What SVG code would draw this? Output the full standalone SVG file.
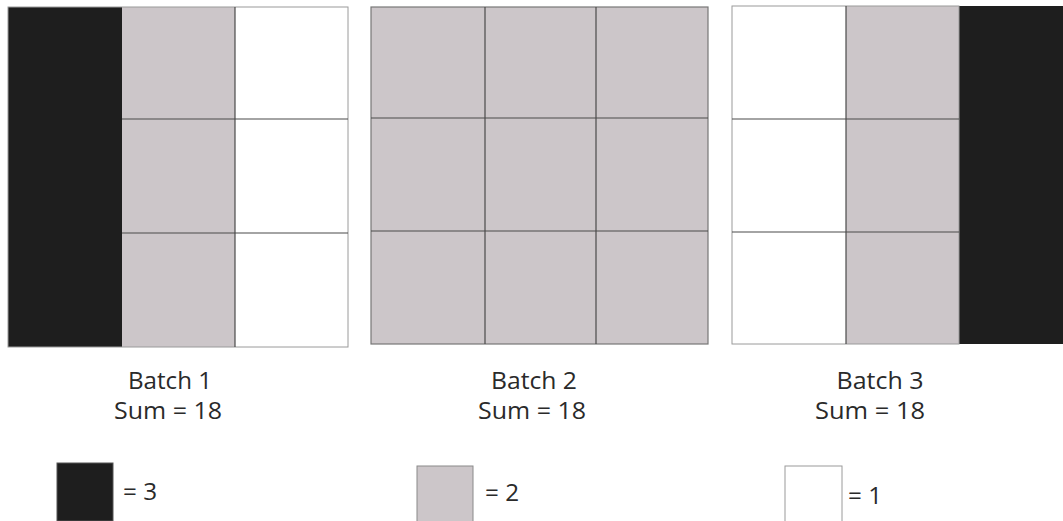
<svg xmlns="http://www.w3.org/2000/svg" width="1063" height="521" viewBox="0 0 1063 521">
<style>
.blk{fill:#1e1e1e}
.gry{fill:#ccc6c9}
.wht{fill:#ffffff}
.ln{stroke:#4a4a4a;stroke-width:1.2;fill:none}
.lt{stroke:#9a9a9a;stroke-width:1;fill:none}
.t{font-family:"Open Sans","Liberation Sans",Arial,sans-serif;font-size:23px;fill:#2a2a2a;text-anchor:middle}
.tl{font-family:"Open Sans","Liberation Sans",Arial,sans-serif;font-size:23px;fill:#2a2a2a}
</style>
<rect width="1063" height="521" fill="#fff"/>
<g id="batch1">
<rect class="blk" x="8" y="7" width="114" height="340"/>
<rect class="gry" x="122" y="7" width="113" height="340"/>
<rect class="wht" x="235" y="7" width="113" height="340"/>
<rect class="lt" x="8" y="7" width="340" height="340"/>
<line class="ln" x1="122" y1="119" x2="348" y2="119"/>
<line class="ln" x1="122" y1="233" x2="348" y2="233"/>
<line class="ln" x1="235" y1="7" x2="235" y2="347"/>
<text class="t" x="170" y="389" textLength="84" lengthAdjust="spacingAndGlyphs">Batch 1</text>
<text class="t" x="168" y="419" textLength="108" lengthAdjust="spacingAndGlyphs">Sum = 18</text>
</g>
<g id="batch2">
<rect class="gry" x="371" y="7" width="337" height="337"/>
<rect class="ln" x="371" y="7" width="337" height="337" style="stroke:#777"/>
<line class="ln" x1="485" y1="7" x2="485" y2="344"/>
<line class="ln" x1="596" y1="7" x2="596" y2="344"/>
<line class="ln" x1="371" y1="118" x2="708" y2="118"/>
<line class="ln" x1="371" y1="231" x2="708" y2="231"/>
<text class="t" x="534" y="389" textLength="86" lengthAdjust="spacingAndGlyphs">Batch 2</text>
<text class="t" x="532" y="419" textLength="108" lengthAdjust="spacingAndGlyphs">Sum = 18</text>
</g>
<g id="batch3">
<rect class="wht" x="732" y="6" width="114" height="338"/>
<rect class="gry" x="846" y="6" width="113" height="338"/>
<rect class="blk" x="959" y="6" width="104" height="338"/>
<rect class="lt" x="732" y="6" width="227" height="338"/>
<line class="ln" x1="732" y1="119" x2="959" y2="119"/>
<line class="ln" x1="732" y1="232" x2="959" y2="232"/>
<line class="ln" x1="846" y1="6" x2="846" y2="344"/>
<text class="t" x="880" y="389" textLength="87" lengthAdjust="spacingAndGlyphs">Batch 3</text>
<text class="t" x="870" y="419" textLength="110" lengthAdjust="spacingAndGlyphs">Sum = 18</text>
</g>
<g id="legend3">
<rect class="blk" x="57" y="463" width="56" height="58" stroke="#555" stroke-width="1"/>
<text class="tl" x="123" y="500" textLength="34" lengthAdjust="spacingAndGlyphs">= 3</text>
</g>
<g id="legend2">
<rect class="gry" x="417" y="466" width="56" height="56" stroke="#8a8a8a" stroke-width="1"/>
<text class="tl" x="485" y="501" textLength="34" lengthAdjust="spacingAndGlyphs">= 2</text>
</g>
<g id="legend1">
<rect class="wht" x="785" y="466" width="57" height="56" stroke="#9a9a9a" stroke-width="1"/>
<text class="tl" x="848" y="504" textLength="34" lengthAdjust="spacingAndGlyphs">= 1</text>
</g>
<g id="connectors"></g>
</svg>
